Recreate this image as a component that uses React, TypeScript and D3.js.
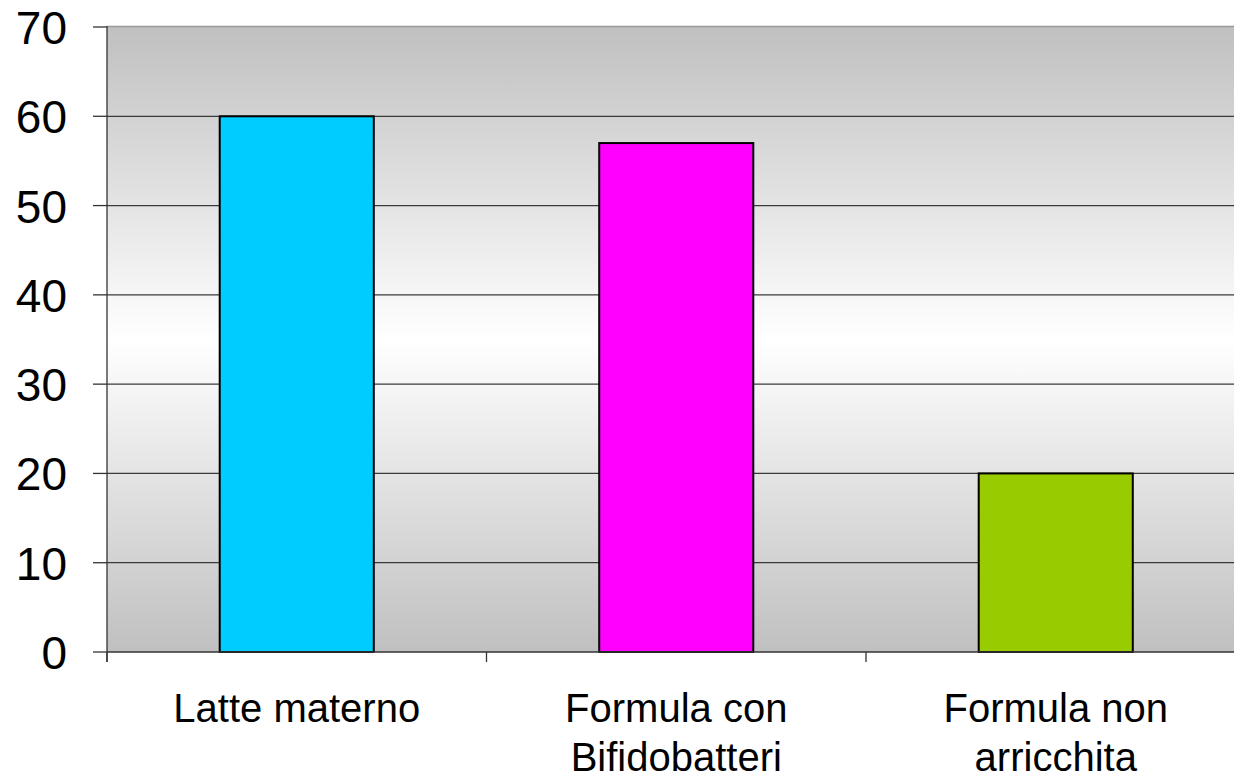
import React from "react";
import * as d3 from "d3";

const categories: string[][] = [
  ["Latte materno"],
  ["Formula con", "Bifidobatteri"],
  ["Formula non", "arricchita"],
];
const values: number[] = [60, 57, 20];
const barColors: string[] = ["#00ccff", "#ff00ff", "#99cc00"];
const yTicks: number[] = [0, 10, 20, 30, 40, 50, 60, 70];

const W = 1234;
const H = 777;
const left = 107;
const right = 1245.5;
const top = 27;
const bottom = 652;

export default function App() {
  const keys = categories.map((c) => c.join(" "));
  const x = d3
    .scaleBand<string>()
    .domain(keys)
    .range([left, right])
    .paddingInner(0.594)
    .paddingOuter(0.297);
  const step = x.step();
  const y = d3.scaleLinear().domain([0, 70]).range([bottom, top]);
  const font = "'Liberation Sans', Arial, Helvetica, sans-serif";

  // category boundary ticks on the x axis
  const boundaries = d3.range(categories.length + 1).map((i) => left + i * step);

  return (
    <svg
      width={W}
      height={H}
      style={{ position: "absolute", left: 0, top: 0, display: "block" }}
    >
      <defs>
        <linearGradient id="plotBg" x1="0" y1="0" x2="0" y2="1">
          <stop offset="0%" stopColor="#c0c0c0" />
          <stop offset="50%" stopColor="#ffffff" />
          <stop offset="100%" stopColor="#c0c0c0" />
        </linearGradient>
      </defs>
      <rect x={0} y={0} width={W} height={H} fill="#ffffff" />
      <rect
        x={left}
        y={top}
        width={right - left}
        height={bottom - top}
        fill="url(#plotBg)"
      />
      {/* top border of plot area */}
      <line x1={left} x2={right} y1={top - 0.5} y2={top - 0.5} stroke="#999999" strokeWidth={1.5} />
      {/* horizontal grid lines */}
      {yTicks
        .filter((t) => t > 0 && t < 70)
        .map((t) => (
          <line
            key={"g" + t}
            x1={left}
            x2={right}
            y1={y(t)}
            y2={y(t)}
            stroke="#3a3a3a"
            strokeWidth={1.3}
          />
        ))}
      {/* bars */}
      {values.map((v, i) => (
        <rect
          key={"b" + i}
          x={x(keys[i])!}
          y={y(v)}
          width={x.bandwidth()}
          height={y(0) - y(v)}
          fill={barColors[i]}
          stroke="#000000"
          strokeWidth={2}
        />
      ))}
      {/* y axis */}
      <line x1={left} x2={left} y1={top - 1} y2={bottom + 10} stroke="#333333" strokeWidth={1.3} />
      {yTicks.map((t) => (
        <g key={"t" + t}>
          <line x1={left - 14} x2={left} y1={y(t)} y2={y(t)} stroke="#333333" strokeWidth={1.3} />
          <text
            x={67}
            y={y(t) + 17}
            textAnchor="end"
            fontFamily={font}
            fontSize={46}
            fill="#000000"
          >
            {t}
          </text>
        </g>
      ))}
      {/* x axis */}
      <line x1={left} x2={right} y1={bottom} y2={bottom} stroke="#333333" strokeWidth={1.5} />
      {boundaries.map((bx, i) => (
        <line
          key={"xb" + i}
          x1={bx}
          x2={bx}
          y1={bottom}
          y2={bottom + 10}
          stroke="#333333"
          strokeWidth={1.3}
        />
      ))}
      {categories.map((lines, i) => (
        <text
          key={"c" + i}
          x={x(keys[i])! + x.bandwidth() / 2}
          y={722}
          textAnchor="middle"
          fontFamily={font}
          fontSize={40}
          fill="#000000"
        >
          {lines.map((ln, j) => (
            <tspan key={j} x={x(keys[i])! + x.bandwidth() / 2} dy={j === 0 ? 0 : 49}>
              {ln}
            </tspan>
          ))}
        </text>
      ))}
    </svg>
  );
}
